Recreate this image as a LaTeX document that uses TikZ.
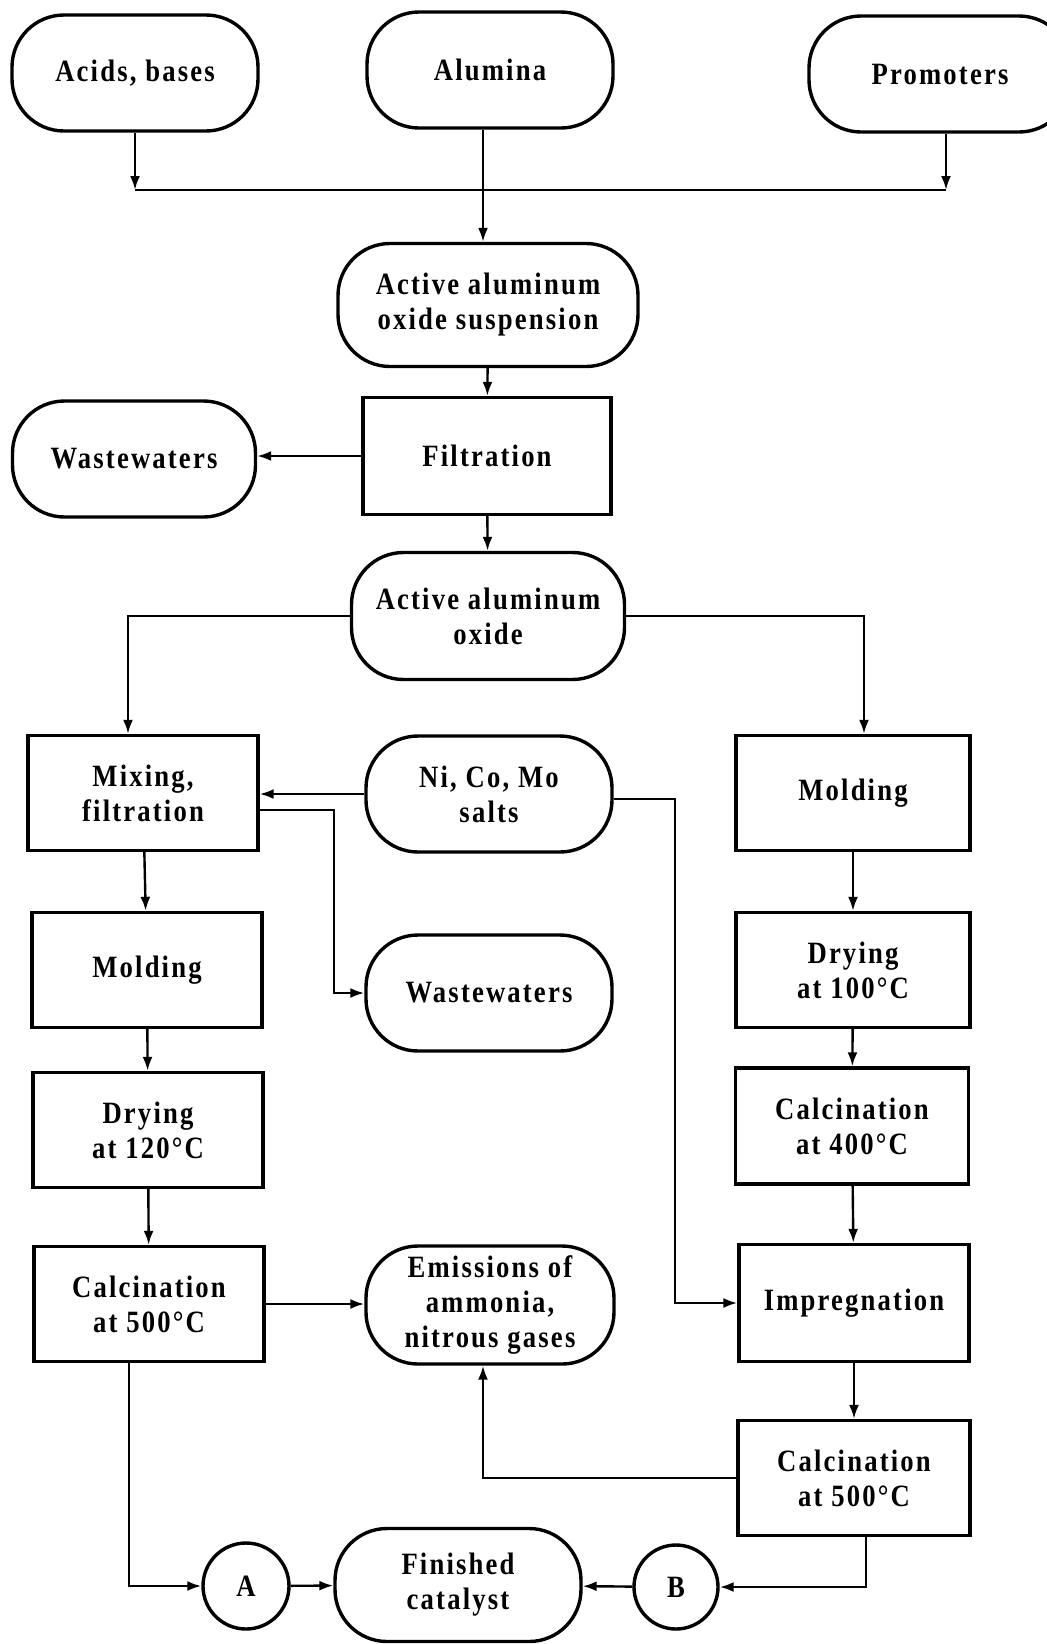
\documentclass[tikz,border=0pt]{standalone}
\usepackage{fontspec}
\setmainfont{Liberation Serif}
\newfontfamily\flowfont{Liberation Serif}[FakeStretch=0.86,LetterSpace=7]
\usetikzlibrary{arrows.meta,positioning}
\tikzset{
  basic/.style = {draw, line width=1.7pt, align=center, inner sep=0pt,
                  font=\flowfont\bfseries\fontsize{15.5}{17.5}\selectfont},
  term/.style  = {basic, rectangle, rounded corners=26pt,
                  minimum width=123pt, minimum height=58pt},
  proc/.style  = {basic, rectangle, minimum width=115pt, minimum height=57.5pt},
  tag/.style   = {basic, circle, minimum size=43pt}
}

\begin{document}
\begin{tikzpicture}[x=0.5pt, y=-0.5pt,
  every path/.style={line width=1.2pt},
  >={Latex[length=7pt,width=5pt]}]
\useasboundingbox (0,0) rectangle (1046,1644);

% raw materials, top row
\node[term] (acids)   at (135,73)  {Acids, bases};
\node[term] (alumina) at (490,70)  {Alumina};
\node[term, minimum width=131pt] (promo) at (940,74) {Promoters};
\coordinate (jn) at (483,190);
\coordinate (pj) at (946,190);

% common trunk
\node[term, minimum width=150pt, minimum height=61.5pt] (susp) at (488,305)
  {Active aluminum\\oxide suspension};
\node[proc, minimum width=124pt, minimum height=58.5pt] (filt) at (487,456) {Filtration};
\node[term, minimum width=121.5pt] (waste1) at (134,459) {Wastewaters};
\node[term, minimum width=136.5pt, minimum height=63.5pt] (aao) at (488,616)
  {Active aluminum\\oxide};

% left branch
\node[proc] (mix)    at (143,793)  {Mixing,\\filtration};
\node[proc] (moldL)  at (147,970)  {Molding};
\node[proc] (dry120) at (148,1130) {Drying\\at 120°C};
\node[proc] (calcL)  at (149,1304) {Calcination\\at 500°C};

% middle column
\node[term] (salts)  at (489,794)  {Ni, Co, Mo\\salts};
\node[term] (waste2) at (489,993)  {Wastewaters};
\node[term, minimum width=124pt, minimum height=59pt] (emis) at (490,1305)
  {Emissions of\\ammonia,\\nitrous gases};

% right branch
\node[proc, minimum width=117pt] (moldR)   at (853,793)  {Molding};
\node[proc, minimum width=117pt] (dry100)  at (853,970)  {Drying\\at 100°C};
\node[proc, minimum width=116.5pt, minimum height=58pt] (calc400) at (852,1126) {Calcination\\at 400°C};
\node[proc, minimum height=58.5pt] (impr)  at (854,1303) {Impregnation};
\node[proc, minimum width=116pt] (calcR)   at (854,1478) {Calcination\\at 500°C};

% end product
\node[tag] (A) at (246,1586) {A};
\node[tag, minimum size=42pt] (B) at (676,1587) {B};
\node[term, minimum height=56.5pt] (fin) at (458,1585) {Finished\\catalyst};

% feed lines
\draw[->] (acids.south) -- (acids.south |- jn);
\draw[->] (promo.south -| pj) -- (pj);
\draw (acids.south |- jn) -- (pj);
\draw[->] (alumina.south -| jn) -- (susp.north -| jn);
\draw[->] (susp) -- (filt);
\draw[->] (filt.west) -- (filt.west -| waste1.east);
\draw[->] (filt) -- (aao);
\draw[->] (aao.west) -| ([xshift=-7.5pt]mix.north);
\draw[->] (aao.east) -| ([xshift=5.5pt]moldR.north);

% salts and wastewaters
\draw[->] (salts.west) -- (salts.west -| mix.east);
\draw[->] ([yshift=-8.5pt]mix.east) -- ++(37pt,0) |- (waste2.west);
\draw[->] ([yshift=-2.5pt]salts.east) -- ++(30.5pt,0) |- (impr.west);

% process chains
\foreach \a/\b in {mix/moldL, moldL/dry120, dry120/calcL}
  \draw[->] (\a) -- (\b);
\foreach \a/\b in {moldR/dry100, dry100/calc400, calc400/impr, impr/calcR}
  \draw[->] (\a) -- (\b);

% emissions and product
\draw[->] (calcL.east) -- (calcL.east -| emis.west);
\draw[->] (calcR.west) -| ([xshift=-3.5pt]emis.south);
\draw[->] ([xshift=-10pt]calcL.south) |- (A.west);
\draw[->] (A) -- (fin);
\draw[->] ([xshift=6pt]calcR.south) |- (B.east);
\draw[->] (B) -- (fin);

\end{tikzpicture}
\end{document}
